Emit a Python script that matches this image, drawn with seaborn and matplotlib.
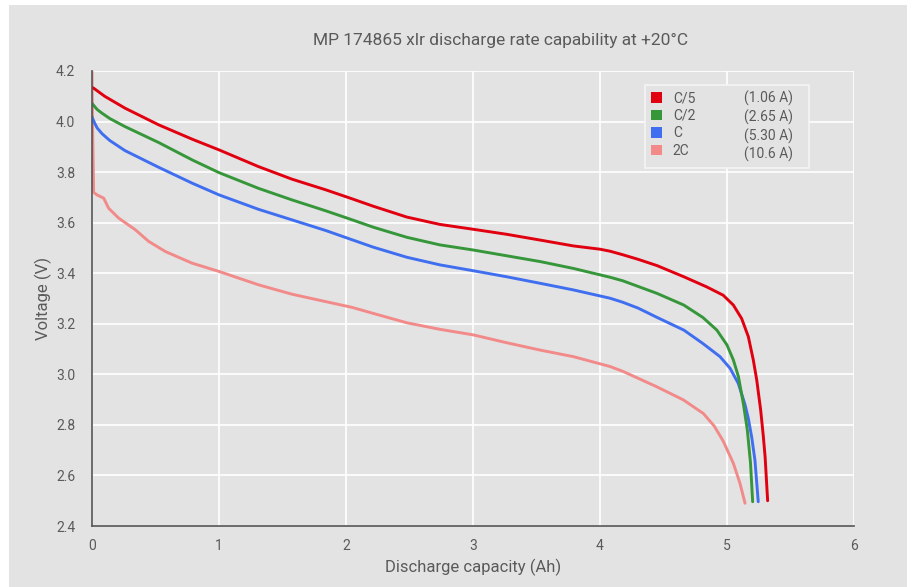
import numpy as np
import pandas as pd
import matplotlib.pyplot as plt
import seaborn as sns
from matplotlib.patches import Patch, Rectangle


# Data

rates = ['C/5', 'C/2', 'C', '2C']
currents = ['(1.06 A)', '(2.65 A)', '(5.30 A)', '(10.6 A)']
colors = ['#e1000f', '#36963a', '#3f6ff0', '#f28a8a']

red_x = [0, 0.013, 0.1, 0.26, 0.525, 0.79, 1.0, 1.31, 1.575, 1.84, 2.05, 2.215, 2.48, 2.74,
         3.0, 3.265, 3.53, 3.79, 4.0, 4.08, 4.18, 4.3, 4.45, 4.66, 4.84, 4.97, 5.05, 5.115,
         5.168, 5.207, 5.234, 5.265, 5.285, 5.30, 5.32]
red_v = [4.135, 4.132, 4.10, 4.053, 3.987, 3.93, 3.888, 3.822, 3.772, 3.73, 3.694, 3.665,
         3.622, 3.593, 3.574, 3.554, 3.531, 3.508, 3.495, 3.487, 3.473, 3.455, 3.43, 3.386,
         3.346, 3.313, 3.274, 3.221, 3.149, 3.057, 2.978, 2.859, 2.76, 2.674, 2.50]

green_x = [0, 0.02, 0.04, 0.079, 0.14, 0.26, 0.525, 0.79, 1.0, 1.31, 1.575, 1.84, 2.05, 2.215,
           2.48, 2.74, 3.0, 3.265, 3.53, 3.79, 4.08, 4.18, 4.45, 4.66, 4.81, 4.92, 5.0, 5.05,
           5.09, 5.13, 5.16, 5.185, 5.202]
green_v = [4.072, 4.06, 4.048, 4.033, 4.012, 3.98, 3.917, 3.848, 3.798, 3.736, 3.69, 3.647,
           3.611, 3.582, 3.542, 3.512, 3.492, 3.469, 3.446, 3.419, 3.384, 3.37, 3.32, 3.274,
           3.225, 3.175, 3.116, 3.057, 2.991, 2.88, 2.78, 2.65, 2.496]

blue_x = [0, 0.02, 0.04, 0.079, 0.14, 0.26, 0.525, 0.79, 1.0, 1.31, 1.575, 1.84, 2.05, 2.215,
          2.48, 2.74, 3.0, 3.265, 3.53, 3.79, 4.08, 4.18, 4.3, 4.45, 4.66, 4.81, 4.945, 5.024,
          5.089, 5.142, 5.168, 5.195, 5.22, 5.246]
blue_v = [4.018, 3.995, 3.975, 3.952, 3.925, 3.885, 3.819, 3.756, 3.71, 3.653, 3.611, 3.569,
          3.532, 3.503, 3.463, 3.433, 3.41, 3.386, 3.36, 3.334, 3.301, 3.285, 3.262, 3.225,
          3.175, 3.122, 3.07, 3.024, 2.964, 2.88, 2.825, 2.75, 2.66, 2.496]

pink_x = [0, 0.004, 0.013, 0.039, 0.092, 0.131, 0.21, 0.341, 0.446, 0.577, 0.787, 1.0, 1.312,
          1.575, 1.837, 2.047, 2.215, 2.478, 2.74, 3.003, 3.265, 3.528, 3.79, 4.079, 4.184,
          4.446, 4.656, 4.814, 4.9, 4.971, 5.05, 5.102, 5.142]
pink_v = [4.20, 4.0, 3.72, 3.71, 3.697, 3.657, 3.618, 3.572, 3.526, 3.486, 3.44, 3.407, 3.354,
          3.317, 3.288, 3.265, 3.241, 3.204, 3.178, 3.156, 3.125, 3.096, 3.07, 3.031, 3.011,
          2.951, 2.899, 2.845, 2.795, 2.735, 2.648, 2.569, 2.49]

series_x = [red_x, green_x, blue_x, pink_x]
series_v = [red_v, green_v, blue_v, pink_v]

frames = []
for rate, xs, vs in zip(rates, series_x, series_v):
    frames.append(pd.DataFrame({'Capacity': xs, 'Voltage': vs, 'Rate': rate}))
df = pd.concat(frames, ignore_index=True)


# Styling

sns.set_theme(style='darkgrid')
plt.rcParams['font.family'] = ['Roboto', 'DejaVu Sans']

bg = '#e3e3e3'
text_col = '#5a5a5a'

fig = plt.figure(figsize=(9.13, 5.87), dpi=100, facecolor='white')
fig.patches.append(Rectangle((9 / 913, 0), 898 / 913, 582 / 587, transform=fig.transFigure,
                             facecolor=bg, edgecolor='none', zorder=-10))
ax = fig.add_axes([92 / 913, 1 - 526 / 587, 762 / 913, 455 / 587])
ax.set_facecolor(bg)

sns.lineplot(data=df, x='Capacity', y='Voltage', hue='Rate', hue_order=rates[::-1],
             palette=dict(zip(rates, colors)), sort=False, estimator=None,
             linewidth=2.1, legend=False, ax=ax)

ax.set_xlim(0, 6)
ax.set_ylim(2.4, 4.2)
ax.set_xticks(range(7))
yt = np.round(np.arange(2.4, 4.21, 0.2), 1)
ax.set_yticks(yt)
ax.set_yticklabels([f'{v:.1f}' for v in yt])
ax.grid(True, color='white', linewidth=1.2)
ax.tick_params(length=0, labelsize=10, colors=text_col)
ax.tick_params(axis='x', pad=9)
ax.tick_params(axis='y', pad=12)

for side in ['top', 'right']:
    ax.spines[side].set_visible(False)
for side in ['left', 'bottom']:
    ax.spines[side].set_visible(True)
    ax.spines[side].set_color('#555555')
    ax.spines[side].set_linewidth(1.2)

ax.set_xlabel('Discharge capacity (Ah)', fontsize=12, color=text_col)
ax.set_ylabel('Voltage (V)', fontsize=12, color=text_col)
ax.xaxis.set_label_coords(0.5, -(559 - 526) / 455)
ax.yaxis.set_label_coords(-(92 - 52) / 762, 0.5)

fig.text(501 / 913, 1 - 40 / 587, 'MP 174865 xlr discharge rate capability at +20°C',
         ha='center', va='center', fontsize=12.5, color=text_col)


# Legend with the current in a second column

handles = [Patch(facecolor=c, edgecolor='none') for c in colors]
handles += [Patch(facecolor='none', edgecolor='none') for _ in currents]
labels = rates + [c + '   ' for c in currents]
leg = ax.legend(handles, labels, ncol=2, loc='upper left',
                bbox_to_anchor=((645 - 92) / 762, (526 - 85) / 455), borderaxespad=0,
                fontsize=10, handlelength=0.8, handleheight=0.8, handletextpad=0.8,
                columnspacing=1.9, labelspacing=0.25, frameon=True, fancybox=False,
                facecolor=bg, edgecolor='#f4f4f4', framealpha=1, labelcolor=text_col)
leg.get_frame().set_linewidth(1.2)

plt.savefig('out.png', dpi=100, facecolor=fig.get_facecolor())
